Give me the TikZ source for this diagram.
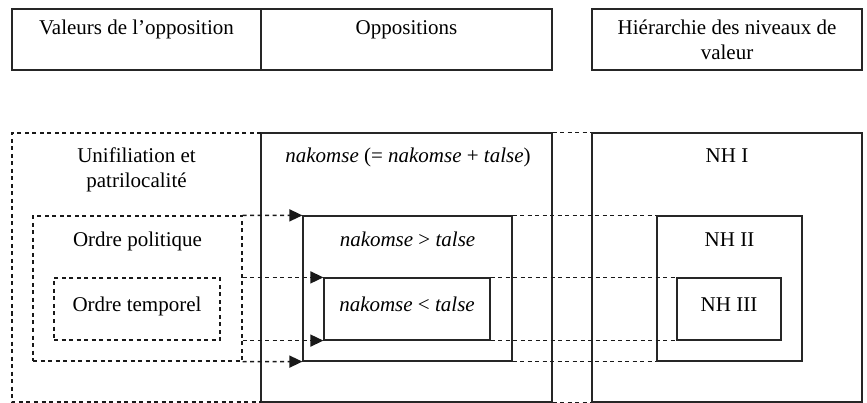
\documentclass[tikz,border=0pt]{standalone}
\usepackage{fontspec}
\setmainfont{Liberation Serif}
\usetikzlibrary{arrows.meta}
\tikzset{
  solidbox/.style={draw=black!85, line width=1.2pt, rectangle, inner sep=0pt},
  dashbox/.style={draw=black!90, line width=1.4pt, rectangle, inner sep=0pt, dash pattern=on 4pt off 3.5pt},
  dline/.style={draw=black!90, line width=1.4pt, dash pattern=on 4pt off 3.5pt},
  arr/.style={dline, -{Triangle[length=13pt,width=12pt]}},
  txt/.style={inner sep=0pt, anchor=base, font=\fontsize{21}{25}\selectfont},
}
\begin{document}
\begin{tikzpicture}[x=1pt,y=-1pt]
\useasboundingbox (0,0) rectangle (867,403);
% header boxes
\node[solidbox, minimum width=249pt, minimum height=61pt] (hv) at (136.5,39.5) {};
\node[solidbox, minimum width=291pt, minimum height=61pt] (ho) at (406.5,39.5) {};
\node[solidbox, minimum width=270pt, minimum height=61pt] (hh) at (727,39.5) {};
\node[txt] (thv) at (136.5,35) {Valeurs de l’opposition};
\node[txt] (tho) at (406.5,35) {Oppositions};
\node[txt] (thh1) at (727,35) {Hiérarchie des niveaux de};
\node[txt] (thh2) at (727,60) {valeur};
% lower big boxes
\node[solidbox, minimum width=291pt, minimum height=269pt] (bo) at (406.5,267.5) {};
\node[solidbox, minimum width=270pt, minimum height=269pt] (bh) at (727,267.5) {};
\coordinate (lt) at (261,133);
\coordinate (lb) at (261,402);
\draw[dline] (lt) -- (12,133) -- (12,402) -- (lb);
\draw[dline] (bo.north east) -- (bh.north west);
\draw[dline] (bo.south east) -- (bh.south west);
% left boxes
\node[dashbox, minimum width=209pt, minimum height=145pt] (op) at (137.5,288.5) {};
\node[dashbox, minimum width=166pt, minimum height=62pt] (ot) at (137,309) {};
% middle boxes
\node[solidbox, minimum width=209pt, minimum height=145pt] (ngt) at (407.5,288.5) {};
\node[solidbox, minimum width=166pt, minimum height=62pt] (nlt) at (407,309) {};
% right boxes
\node[solidbox, minimum width=145pt, minimum height=145pt] (nh2) at (729.5,288.5) {};
\node[solidbox, minimum width=104pt, minimum height=62pt] (nh3) at (729,309) {};
% texts
\node[txt] (tu1) at (136.5,163) {Unifiliation et};
\node[txt] (tu2) at (136.5,188) {patrilocalité};
\node[txt] (tn) at (408,163) {\emph{nakomse} (= \emph{nakomse} + \emph{talse})};
\node[txt] (tnh1) at (727,163) {NH I};
\node[txt] (top) at (137.5,247) {Ordre politique};
\node[txt] (tngt) at (407.5,247) {\emph{nakomse} > \emph{talse}};
\node[txt] (tnh2) at (729.5,247) {NH II};
\node[txt] (tot) at (137,311) {Ordre temporel};
\node[txt] (tnlt) at (407,311) {\emph{nakomse} < \emph{talse}};
\node[txt] (tnh3) at (729,311) {NH III};
% connectors
\draw[arr] (op.north east) -- (ngt.north west);
\draw[arr] (op.south east) -- (ngt.south west);
\draw[arr] (op.east |- nlt.north west) -- (nlt.north west);
\draw[arr] (op.east |- nlt.south west) -- (nlt.south west);
\draw[dline] (ngt.north east) -- (nh2.north west);
\draw[dline] (ngt.south east) -- (nh2.south west);
\draw[dline] (nlt.north east) -- (nh3.north west);
\draw[dline] (nlt.south east) -- (nh3.south west);
\end{tikzpicture}
\end{document}
